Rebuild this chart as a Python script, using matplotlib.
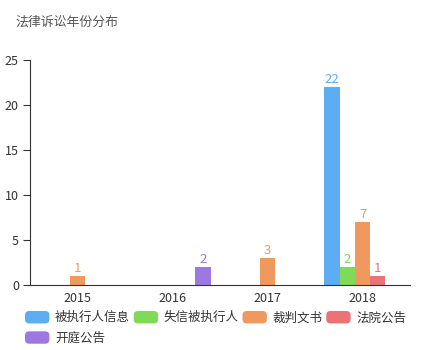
import matplotlib
matplotlib.use("Agg")
import matplotlib.pyplot as plt
import numpy as np
from matplotlib.patches import FancyBboxPatch
from matplotlib.legend_handler import HandlerPatch

plt.rcParams['font.family'] = ['Noto Sans CJK SC', 'DejaVu Sans']

years = ['2015', '2016', '2017', '2018']
series_names = ['被执行人信息', '失信被执行人', '裁判文书', '法院公告', '开庭公告']
beizhixing = [0, 0, 0, 22]
shixin = [0, 0, 0, 2]
caipan = [1, 0, 3, 7]
fayuan = [0, 0, 0, 1]
kaiting = [0, 2, 0, 0]
colors = ['#5DADF5', '#80DA55', '#F0995E', '#EA7378', '#9D78E0']


class RoundHandler(HandlerPatch):
    def create_artists(self, legend, orig_handle, xdescent, ydescent,
                       width, height, fontsize, trans):
        p = FancyBboxPatch((-xdescent, -ydescent), width, height,
                           boxstyle="round,pad=0,rounding_size=3",
                           facecolor=orig_handle.get_facecolor(),
                           edgecolor='none', transform=trans)
        return [p]


def main():
    fig = plt.figure(figsize=(4.29, 3.50), dpi=100)
    ax = fig.add_axes([0.0699, 0.1857, 0.8858, 0.6429])

    data = [beizhixing, shixin, caipan, fayuan, kaiting]
    x = np.arange(len(years))
    w = 0.161
    handles = []
    for i, (vals, name, c) in enumerate(zip(data, series_names, colors)):
        bars = ax.bar(x + (i - 2) * w, vals, width=w, color=c, label=name)
        ax.bar_label(bars, labels=[str(v) if v > 0 else '' for v in vals],
                     color=c, fontsize=9.5, padding=1)
        handles.append(bars.patches[0])

    ax.set_xlim(-0.5, 3.5)
    ax.set_ylim(0, 25)
    ax.set_yticks([0, 5, 10, 15, 20, 25])
    ax.set_xticks(x)
    ax.set_xticklabels(years)
    ax.spines['top'].set_visible(False)
    ax.spines['right'].set_visible(False)
    ax.spines['left'].set_color('#333333')
    ax.spines['bottom'].set_color('#333333')
    ax.tick_params(axis='y', length=5, color='#333333', labelcolor='#333333',
                   labelsize=9, pad=3)
    ax.tick_params(axis='x', length=0, labelcolor='#333333', labelsize=9, pad=5)

    fig.text(15 / 429, 1 - 22 / 350, '法律诉讼年份分布', fontsize=9.3,
             color='#555555', va='center', ha='left')

    # order so that row 1 holds the first four, row 2 the fifth
    order = [0, 4, 1, 2, 3]
    leg = fig.legend([handles[k] for k in order], [series_names[k] for k in order],
                     ncol=4, loc='upper left', bbox_to_anchor=(25 / 429, 1 - 311 / 350),
                     frameon=False, fontsize=9, handlelength=1.95, handleheight=1.15,
                     handletextpad=0.45, columnspacing=0.3, labelspacing=0.55,
                     borderpad=0, borderaxespad=0,
                     handler_map={type(handles[0]): RoundHandler()})
    for t in leg.get_texts():
        t.set_color('#333333')

    fig.savefig('out.png', dpi=100)


if __name__ == "__main__":
    main()
